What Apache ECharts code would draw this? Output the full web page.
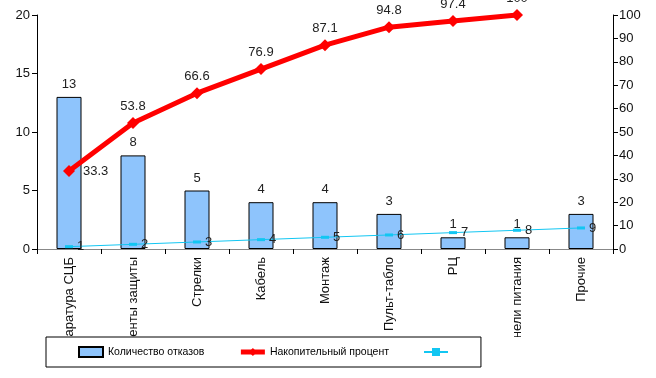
<!DOCTYPE html>
<html><head><meta charset="utf-8">
<script src="https://cdn.jsdelivr.net/npm/echarts@6/dist/echarts.min.js"></script>
<style>html,body{margin:0;padding:0;background:#fff}#c{width:656px;height:378px}</style>
</head><body><div id="c"></div>
<script>
const categories = ["Аппаратура СЦБ","Элементы защиты","Стрелки","Кабель","Монтаж","Пульт-табло","РЦ","Панели питания","Прочие"];
const failures = [13, 8, 5, 4, 4, 3, 1, 1, 3];
const cumulative = [33.3, 53.8, 66.6, 76.9, 87.1, 94.8, 97.4, 100, null];
const indexSeries = [1, 2, 3, 4, 5, 6, 7, 8, 9];
const leftTicks = {min: 0, max: 20, interval: 5};
const rightTicks = {min: 0, max: 100, interval: 10};

const FONT = '"Liberation Sans", Arial, sans-serif';
const chart = echarts.init(document.getElementById('c'), null, {renderer: 'canvas'});
const cumData = cumulative.map((v, i) => i === 0 ? {value: v, label: {position: 'right', distance: 8}} : v);
chart.setOption({
  animation: false,
  textStyle: {fontFamily: FONT},
  grid: {left: 37, right: 43, top: 15, bottom: 129},
  // the original image clips the category labels along the legend's top edge
  graphic: [{
    type: 'rect', z: 5, silent: true,
    shape: {x: 0, y: 337, width: 656, height: 41},
    style: {fill: '#fff'}
  }],
  legend: {
    left: 46, top: 337, z: 10,
    padding: [9, 25, 9, 32],
    backgroundColor: '#fff', borderColor: '#000', borderWidth: 1, borderRadius: 0,
    itemWidth: 24, itemHeight: 10, itemGap: 34,
    textStyle: {fontSize: 10.5, color: '#000', fontFamily: FONT},
    data: [
      {name: 'Количество отказов', icon: 'rect'},
      {name: 'Накопительный процент', lineStyle: {width: 5}},
      {name: ' '}
    ]
  },
  xAxis: [{
    type: 'category', data: categories, position: 'bottom',
    axisLine: {lineStyle: {color: '#000', width: 1}},
    axisTick: {show: true, alignWithLabel: false, length: 5, lineStyle: {color: '#000'}},
    axisLabel: {rotate: 90, interval: 0, fontSize: 13, color: '#111', margin: 8, fontFamily: FONT}
  }, {
    type: 'category', data: categories, position: 'top',
    axisLine: {show: true, lineStyle: {color: '#888', width: 1}},
    axisTick: {show: false}, axisLabel: {show: false}
  }],
  yAxis: [{
    type: 'value', min: leftTicks.min, max: leftTicks.max, interval: leftTicks.interval,
    axisLine: {show: true, lineStyle: {color: '#000'}},
    axisTick: {show: true, length: 5, lineStyle: {color: '#000'}},
    splitLine: {show: false},
    axisLabel: {fontSize: 13, color: '#111', margin: 7, fontFamily: FONT}
  }, {
    type: 'value', position: 'right', min: rightTicks.min, max: rightTicks.max, interval: rightTicks.interval,
    axisLine: {show: true, lineStyle: {color: '#000'}},
    axisTick: {show: true, length: 5, lineStyle: {color: '#000'}},
    splitLine: {show: false},
    axisLabel: {fontSize: 13, color: '#111', margin: 6, fontFamily: FONT}
  }],
  series: [{
    name: 'Количество отказов', type: 'bar', data: failures, barWidth: 25,
    itemStyle: {color: '#8EC4FC', borderColor: '#000', borderWidth: 1},
    label: {show: true, position: 'top', distance: 6, fontSize: 13, color: '#222', fontFamily: FONT}
  }, {
    name: 'Накопительный процент', type: 'line', yAxisIndex: 1, data: cumData,
    lineStyle: {color: '#FF0000', width: 5}, itemStyle: {color: '#FF0000'},
    symbol: 'diamond', symbolSize: 12, z: 5,
    label: {show: true, position: 'top', distance: 4, fontSize: 13, color: '#222', fontFamily: FONT}
  }, {
    name: ' ', type: 'line', yAxisIndex: 1, data: indexSeries,
    lineStyle: {color: '#12C6F2', width: 1}, itemStyle: {color: '#12C6F2'},
    symbol: 'rect', symbolSize: [8, 3], z: 4,
    label: {show: true, position: 'right', distance: 4, fontSize: 13, color: '#222', fontFamily: FONT}
  }]
});
</script></body></html>
